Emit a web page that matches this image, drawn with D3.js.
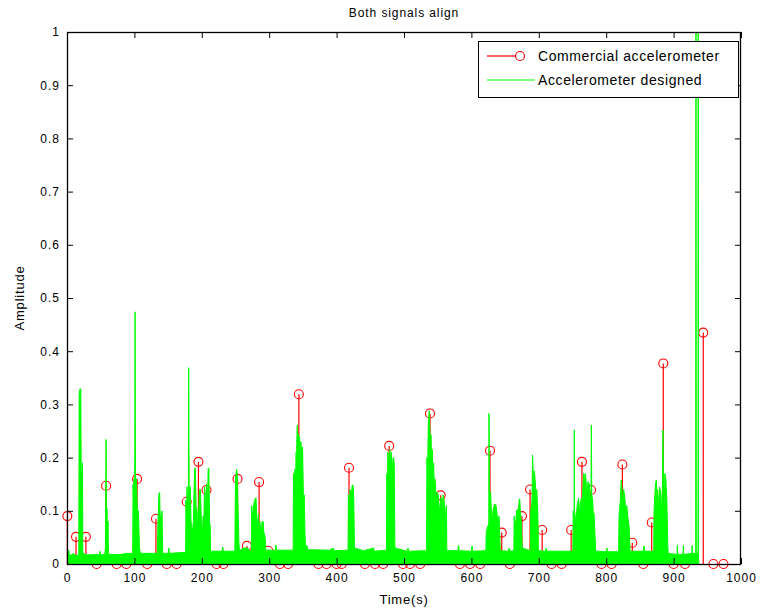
<!DOCTYPE html>
<html><head><meta charset="utf-8">
<script src="https://cdn.jsdelivr.net/npm/d3@7"></script>
<style>
html,body{margin:0;padding:0;background:#fff;}
text{font-family:"Liberation Sans",Arial,Helvetica,sans-serif;fill:#000;}
</style></head>
<body><svg id="chart" width="760" height="613"></svg>
<script>
// ---- Data ----
const xTicks = [0,100,200,300,400,500,600,700,800,900,1000];
const yTicks = [0,0.1,0.2,0.3,0.4,0.5,0.6,0.7,0.8,0.9,1];
const yTickLabels = ["0","0.1","0.2","0.3","0.4","0.5","0.6","0.7","0.8","0.9","1"];
const seriesNames = ["Commercial accelerometer","Accelerometer designed"];

// Commercial accelerometer (stem samples)
const redTime = [0.5,13.4,28,44,58,73.7,88,104,119,132,148,162.7,177.6,195,207,222,232,253,267,285,298.6,316,328,344,373,385,400,407.6,418.4,442,457,469,478,498.5,509,524,538.6,554.4,583,598,613,627.6,645,657,675,687,705,719,734,748,764,777.4,793,808,824,838.7,855,867.5,884.7,900,917,944,959,974];
const redAmp  = [0.09,0.051,0.051,0,0.147,0,0,0.16,0,0.085,0,0,0.117,0.192,0.139,0,0,0.16,0.034,0.154,0.025,0,0,0.319,0,0,0,0,0.181,0,0,0,0.222,0,0,0,0.283,0.129,0,0,0,0.213,0.059,0,0.09,0.14,0.064,0,0,0.064,0.192,0.139,0,0,0.187,0.04,0,0.078,0.377,0,0,0.435,0,0];

// Accelerometer designed (envelope of the dense signal: [time, amplitude])
const greenSignal = [
 [0,0],[0,0.03],[1,0.012],[2.5,0.026],[4,0.015],[6,0.017],[10,0.02],[11,0.016],[17.5,0.017],
 [18,0.32],[19.5,0.33],[20.5,0.328],[21,0.19],[22,0.15],[23,0.19],[23.5,0.02],[30,0.017],[48,0.018],[49,0.024],[50,0.017],
 [56,0.018],[57,0.03],[58,0.234],[58.6,0.105],[59.5,0.105],[60,0.06],[60.5,0.08],[61,0.08],[61.5,0.018],
 [80,0.018],[88,0.02],[97.5,0.02],[98,0.15],[98.7,0.12],[99.3,0.16],[100.5,0.16],[101,0.474],[101.6,0.16],[102.3,0.13],[103,0.16],[104,0.12],[105,0.08],[106,0.1],[107.5,0.03],[109,0.02],
 [120,0.02],[134,0.02],[135,0.08],[136.5,0.134],[137.5,0.134],[138,0.1],[139.5,0.07],[141,0.1],[142,0.02],
 [150,0.02],[151,0.03],[152,0.02],
 [176,0.022],[176.5,0.12],[177.5,0.09],[178,0.145],[179,0.11],[180,0.1],[180.5,0.369],[181.3,0.145],[182,0.12],[183,0.145],[184,0.08],[186,0.06],[187.5,0.08],[188.5,0.14],[189.5,0.18],[190.5,0.18],[191.5,0.11],[193,0.1],[194.5,0.07],[196.5,0.14],[198,0.14],[199.5,0.075],[201,0.06],[202,0.09],[203,0.07],[204,0.145],[205.5,0.11],[207,0.15],[208.5,0.12],[209.5,0.18],[210.5,0.18],[211.5,0.08],[212.5,0.07],[213,0.024],
 [230,0.024],[231,0.032],[232,0.024],
 [249,0.024],[250,0.16],[251.5,0.178],[252.5,0.17],[253.5,0.12],[255,0.04],[256,0.025],[262,0.03],[268,0.03],[270,0.025],
 [273.5,0.025],[274,0.11],[275,0.08],[276,0.1],[277.5,0.115],[279.5,0.124],[280.5,0.124],[281.5,0.09],[283,0.07],[284,0.095],[285,0.06],[286,0.08],[288,0.06],[289.5,0.08],[291,0.08],[292,0.06],[294,0.05],[295,0.026],
 [309,0.026],[310,0.036],[311,0.026],
 [335.5,0.026],[336,0.17],[337,0.13],[338,0.178],[339,0.15],[340,0.21],[340.5,0.17],[341,0.235],[341.7,0.261],[342.3,0.2],[343,0.245],[344,0.215],[345,0.24],[346,0.2],[347,0.23],[348,0.21],[349.5,0.22],[350.3,0.16],[351,0.11],[352,0.13],[353,0.06],[354,0.03],[356,0.035],[357,0.027],
 [390,0.026],[395,0.03],[396,0.025],
 [417,0.026],[417.5,0.13],[419,0.1],[420,0.14],[421.5,0.12],[423,0.148],[424.5,0.148],[425.5,0.12],[426.5,0.03],
 [440,0.025],[455,0.03],[456,0.024],
 [474,0.026],[474.5,0.17],[475.5,0.14],[476,0.21],[477.5,0.18],[479,0.215],[480,0.19],[481,0.21],[482.5,0.19],[483.2,0.16],[484,0.2],[485.5,0.19],[486.5,0.03],
 [505,0.024],[506,0.03],[507,0.024],
 [533.5,0.025],[534,0.2],[535,0.17],[536,0.26],[537.5,0.288],[538.5,0.25],[539.2,0.2],[540,0.243],[541,0.19],[542,0.215],[543,0.17],[544,0.19],[545,0.14],[546,0.16],[547,0.14],[548,0.11],[549,0.135],[551,0.13],[552.5,0.1],[555,0.125],[556.5,0.1],[558,0.13],[560,0.115],[561.5,0.09],[563,0.11],[563.5,0.025],
 [580,0.025],[581,0.035],[582,0.025],[600,0.024],[601,0.034],[602,0.024],
 [621.5,0.025],[622,0.06],[624,0.07],[625.8,0.075],[626.1,0.283],[626.5,0.135],[628.5,0.135],[629.5,0.1],[631,0.08],[632,0.1],[634.5,0.113],[636.5,0.11],[638,0.095],[639.5,0.07],[641,0.09],[643,0.025],
 [655,0.024],[656,0.03],[657,0.024],
 [663,0.025],[663.5,0.09],[665.5,0.07],[667,0.1],[670,0.105],[671,0.122],[671.8,0.122],[672.5,0.1],[674,0.08],[675.5,0.03],
 [687.5,0.025],[688,0.1],[690,0.12],[690.7,0.205],[691.5,0.18],[692.5,0.14],[693.5,0.175],[695,0.15],[696,0.12],[697,0.14],[698.5,0.1],[699.5,0.025],
 [710,0.024],[711,0.03],[712,0.024],
 [750.5,0.024],[751,0.1],[752.4,0.1],[752.7,0.252],[753,0.1],[755,0.08],[757,0.11],[759,0.124],[760.5,0.1],[763,0.124],[764.5,0.12],[766.5,0.17],[767.5,0.14],[768.5,0.17],[770,0.16],[771.5,0.12],[773,0.155],[775,0.15],[776.5,0.11],[777.5,0.14],[778,0.261],[778.6,0.13],[780,0.12],[781,0.09],[782,0.095],[783.5,0.05],[784.5,0.024],
 [800,0.023],[801,0.03],[802,0.023],
 [818.5,0.023],[819,0.09],[821,0.12],[822.3,0.158],[823.5,0.14],[824.5,0.11],[826,0.14],[828,0.12],[829,0.09],[830.5,0.11],[832,0.09],[834,0.07],[835.5,0.024],
 [855,0.024],[856,0.034],[857,0.024],
 [870.5,0.024],[871,0.1],[873,0.15],[874.5,0.158],[875.2,0.12],[876,0.14],[877.5,0.11],[879,0.145],[881,0.135],[882,0.1],[883.5,0.14],[884.3,0.252],[885,0.135],[886,0.11],[887,0.17],[888.5,0.16],[890,0.12],[891.5,0.03],[892,0.02],
 [905,0.018],[905.5,0.035],[906,0.018],[914,0.018],[914.5,0.035],[915,0.018],[927,0.02],[927.5,0.035],[928,0.02],
 [932.8,0.02],[933.2,1.2],[933.6,0.02],[936.2,0.02],[936.6,1.2],[937,0.01],[937.5,0]
];

// ---- Layout ----
const svg = d3.select("#chart");
const L=67, R=741, T=32, B=564;
const x = d3.scaleLinear().domain([0,1000]).range([L,R]);
const y = d3.scaleLinear().domain([0,1]).range([B,T]);
const RED="#ff0000", GREEN="#00ff00";

svg.append("rect").attr("width",760).attr("height",613).attr("fill","#fff");

svg.append("defs").append("clipPath").attr("id","clip")
  .append("rect").attr("x",L).attr("y",T).attr("width",R-L).attr("height",B-T);

// Red stems
const stems = redTime.map((t,i)=>({t, v:redAmp[i]}));
const gRed = svg.append("g");
gRed.selectAll("line").data(stems).join("line")
  .attr("x1",d=>x(d.t)).attr("x2",d=>x(d.t))
  .attr("y1",y(0)).attr("y2",d=>y(d.v))
  .attr("stroke",RED).attr("stroke-width",1.2);
gRed.selectAll("circle").data(stems).join("circle")
  .attr("cx",d=>x(d.t)).attr("cy",d=>y(d.v)).attr("r",4.5)
  .attr("fill","none").attr("stroke",RED).attr("stroke-width",1.1);

// Green signal
const gGreen = svg.append("g").attr("clip-path","url(#clip)");
gGreen.append("path").datum(greenSignal)
  .attr("d", d3.area().x(d=>x(d[0])).y0(y(0)).y1(d=>y(d[1])))
  .attr("fill",GREEN);
gGreen.append("path").datum(greenSignal)
  .attr("d", d3.line().x(d=>x(d[0])).y(d=>y(d[1])))
  .attr("fill","none").attr("stroke",GREEN).attr("stroke-width",1);

// Axes
function styleAxis(g, showText){
  g.select(".domain").remove();
  g.selectAll(".tick line").attr("stroke","#000");
  g.selectAll("text").style("font-size","12px").style("letter-spacing","1px");
  if(!showText) g.selectAll("text").remove();
}
svg.append("g").attr("transform",`translate(0,${B})`)
  .call(d3.axisBottom(x).tickValues(xTicks).tickFormat(d3.format("d")).tickSizeInner(-6).tickSizeOuter(0).tickPadding(9))
  .call(g=>styleAxis(g,true));
svg.append("g").attr("transform",`translate(0,${T})`)
  .call(d3.axisTop(x).tickValues(xTicks).tickSizeInner(-6).tickSizeOuter(0))
  .call(g=>styleAxis(g,false));
svg.append("g").attr("transform",`translate(${L},0)`)
  .call(d3.axisLeft(y).tickValues(yTicks).tickFormat((d,i)=>yTickLabels[i]).tickSizeInner(-6).tickSizeOuter(0).tickPadding(7))
  .call(g=>styleAxis(g,true));
svg.append("g").attr("transform",`translate(${R},0)`)
  .call(d3.axisRight(y).tickValues(yTicks).tickSizeInner(-6).tickSizeOuter(0))
  .call(g=>styleAxis(g,false));

svg.append("rect").attr("x",L+0.5).attr("y",T+0.5).attr("width",R-L-1).attr("height",B-T)
  .attr("fill","none").attr("stroke","#000").attr("stroke-width",1.3);

// Titles
svg.append("text").attr("x",(L+R)/2).attr("y",17).attr("text-anchor","middle")
  .style("font-size","12px").style("letter-spacing","0.9px").text("Both signals align");
svg.append("text").attr("x",(L+R)/2).attr("y",604).attr("text-anchor","middle")
  .style("font-size","13px").style("letter-spacing","0.8px").text("Time(s)");
svg.append("text").attr("transform",`translate(24,${(T+B)/2}) rotate(-90)`).attr("text-anchor","middle")
  .style("font-size","13px").style("letter-spacing","0.8px").text("Amplitude");

// Legend
const lg = svg.append("g");
lg.append("rect").attr("x",478.5).attr("y",41.5).attr("width",260).attr("height",56)
  .attr("fill","#fff").attr("stroke","#000").attr("stroke-width",1);
lg.append("line").attr("x1",487).attr("x2",516).attr("y1",56).attr("y2",56).attr("stroke",RED).attr("stroke-width",1.2);
lg.append("circle").attr("cx",520).attr("cy",56).attr("r",4.5).attr("fill","none").attr("stroke",RED).attr("stroke-width",1.1);
lg.append("line").attr("x1",487).attr("x2",535).attr("y1",80).attr("y2",80).attr("stroke",GREEN);
lg.append("text").attr("x",538).attr("y",61).style("font-size","14px").style("letter-spacing","0.6px").text(seriesNames[0]);
lg.append("text").attr("x",538).attr("y",85).style("font-size","14px").style("letter-spacing","0.6px").text(seriesNames[1]);
</script></body></html>
